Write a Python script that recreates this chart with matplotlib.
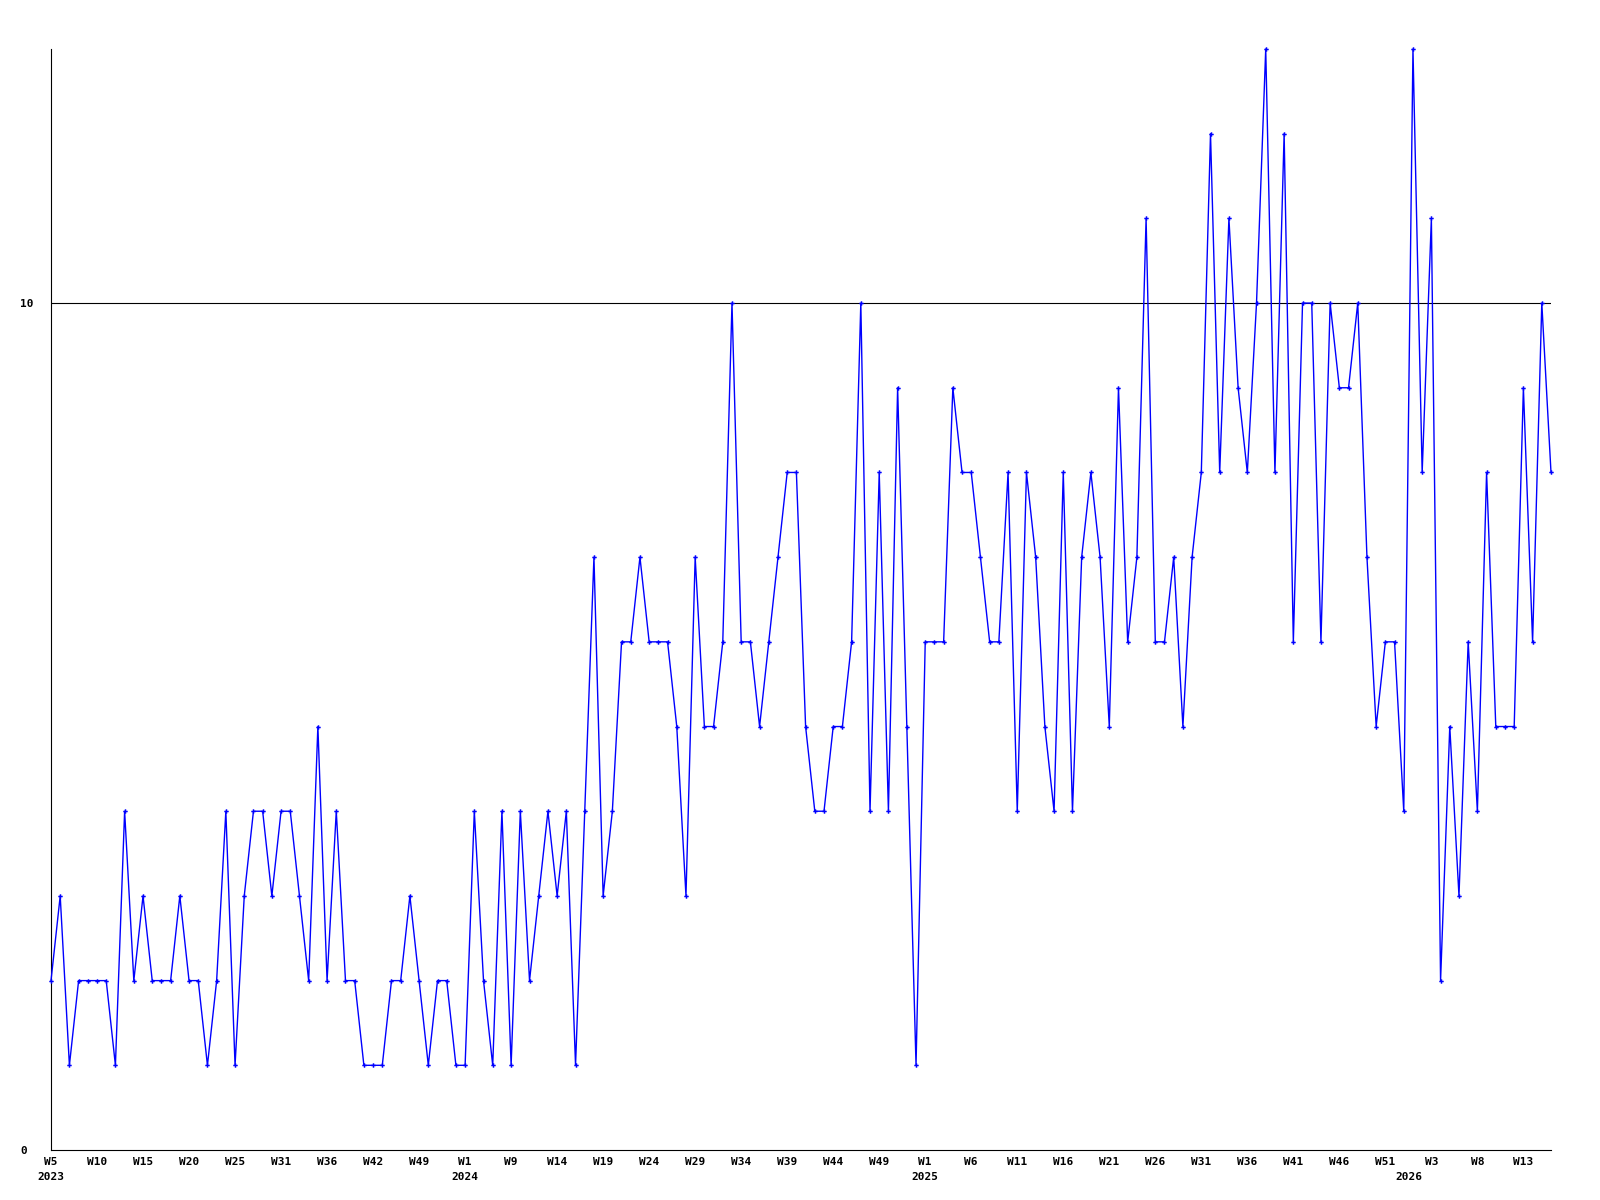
import matplotlib
matplotlib.use("Agg")
import matplotlib.pyplot as plt
import numpy as np

# weekly counts, W5 2023 .. ~W16 2026
values = [2, 3, 1, 2, 2, 2, 2, 1, 4, 2,
          3, 2, 2, 2, 3, 2, 2, 1, 2, 4,
          1, 3, 4, 4, 3, 4, 4, 3, 2, 5,
          2, 4, 2, 2, 1, 1, 1, 2, 2, 3,
          2, 1, 2, 2, 1, 1, 4, 2, 1, 4,
          1, 4, 2, 3, 4, 3, 4, 1, 4, 7,
          3, 4, 6, 6, 7, 6, 6, 6, 5, 3,
          7, 5, 5, 6, 10, 6, 6, 5, 6, 7,
          8, 8, 5, 4, 4, 5, 5, 6, 10, 4,
          8, 4, 9, 5, 1, 6, 6, 6, 9, 8,
          8, 7, 6, 6, 8, 4, 8, 7, 5, 4,
          8, 4, 7, 8, 7, 5, 9, 6, 7, 11,
          6, 6, 7, 5, 7, 8, 12, 8, 11, 9,
          8, 10, 13, 8, 12, 6, 10, 10, 6, 10,
          9, 9, 10, 7, 5, 6, 6, 4, 13, 8,
          11, 2, 5, 3, 6, 4, 8, 5, 5, 5,
          9, 6, 10, 8]

week_labels = ["W5", "W10", "W15", "W20", "W25", "W31", "W36", "W42", "W49",
               "W1", "W9", "W14", "W19", "W24", "W29", "W34", "W39", "W44", "W49",
               "W1", "W6", "W11", "W16", "W21", "W26", "W31", "W36", "W41", "W46",
               "W51", "W3", "W8", "W13"]
label_step = 5

years = ["2023", "2024", "2025", "2026"]
year_pos = [0, 45, 95, 147.6]

ref_level = 10

font = {"family": "DejaVu Sans Mono", "weight": "bold", "size": 8}

x = np.arange(len(values))

fig = plt.figure(figsize=(16, 12), dpi=100)
ax = fig.add_axes([51/1600, 1 - 1150/1200, 1500/1600, 1101/1200])

ax.axhline(ref_level, color="black", lw=0.8, zorder=1)
ax.plot(x, values, color="#0000ff", lw=1.0, marker="P", ms=3.2,
        markeredgewidth=0, clip_on=False, zorder=3)

ax.set_xlim(0, len(values) - 1)
ax.set_ylim(0, 13)

for s in ["top", "right"]:
    ax.spines[s].set_visible(False)
for s in ["left", "bottom"]:
    ax.spines[s].set_linewidth(0.8)

ax.set_xticks(np.arange(len(week_labels)) * label_step)
ax.set_xticklabels(week_labels, fontdict=font)
ax.tick_params(axis="x", length=0, pad=5)

ax.set_yticks([0, ref_level])
ax.set_yticklabels(["0", "10"], fontdict=font, ha="left")
ax.tick_params(axis="y", length=0, pad=22)

for yr, p in zip(years, year_pos):
    ax.annotate(yr, xy=(p, 0), xytext=(0, -19.5), textcoords="offset points",
                ha="center", va="center", annotation_clip=False, **font)

fig.savefig("out.png", dpi=100)
